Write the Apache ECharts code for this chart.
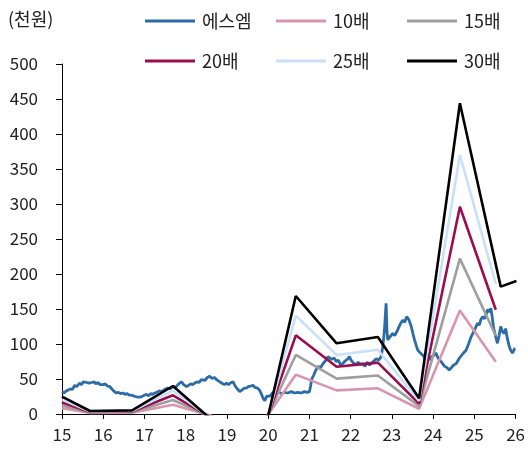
<!DOCTYPE html>
<html>
<head>
<meta charset="utf-8">
<script src="https://cdn.jsdelivr.net/npm/echarts@6/dist/echarts.min.js"></script>
<style>
  html, body { margin: 0; padding: 0; background: #fff; }
  #main { width: 528px; height: 450px; }
</style>
</head>
<body>
<div id="main"></div>
<script>
// 에스엠 주가 (연도 소수점, 천원)
var smYears = [15.00,15.05,15.10,15.15,15.20,15.25,15.31,15.36,15.42,15.47,15.52,15.56,15.60,15.65,15.68,15.72,15.78,15.82,15.87,15.92,15.96,
  16.00,16.05,16.10,16.16,16.20,16.25,16.32,16.37,16.42,16.48,16.53,16.58,16.63,16.68,16.73,16.78,16.84,16.89,16.94,
  17.00,17.05,17.10,17.15,17.20,17.25,17.30,17.36,17.42,17.49,17.55,17.62,17.69,17.75,17.80,17.85,17.90,17.95,
  18.02,18.07,18.12,18.17,18.22,18.27,18.32,18.38,18.42,18.47,18.52,18.58,18.63,18.70,18.75,18.80,18.83,18.88,18.94,18.99,
  19.04,19.10,19.15,19.20,19.25,19.31,19.36,19.42,19.47,19.52,19.58,19.63,19.68,19.74,19.79,19.84,19.88,19.92,19.96,
  20.00,20.05,20.10,20.16,20.21,20.27,20.32,20.40,20.48,20.56,20.64,20.72,20.80,20.88,20.95,
  21.00,21.03,21.05,21.10,21.15,21.21,21.27,21.33,21.39,21.45,21.49,21.54,21.60,21.65,21.70,21.76,21.81,21.87,21.92,21.97,
  22.02,22.07,22.13,22.18,22.24,22.30,22.35,22.40,22.46,22.51,22.57,22.62,22.68,22.74,22.78,22.82,22.86,22.88,22.90,22.95,
  23.02,23.07,23.14,23.20,23.26,23.31,23.36,23.41,23.47,23.51,23.55,23.59,23.63,23.68,23.75,23.80,23.85,23.91,23.96,
  24.02,24.07,24.12,24.18,24.23,24.28,24.34,24.39,24.44,24.50,24.56,24.60,24.64,24.68,24.72,24.76,24.80,24.86,24.92,24.97,
  25.02,25.08,25.12,25.16,25.20,25.25,25.30,25.32,25.36,25.40,25.43,25.46,25.48,25.52,25.56,25.60,25.64,25.68,25.72,25.76,
  25.80,25.85,25.89,25.93,25.97,25.99];
var smPrice = [32,30,33,34,36,35,41,39,44,42,46,48,45,44,43,45,46,43,45,42,44,
  42,43,40,39,37,33,30,31,29,30,28,29,27,27,26,25,24,24,25,
  27,28,26,29,28,30,31,33,32,35,37,36,39,38,41,44,46,42,
  39,41,43,42,44,46,45,49,50,48,52,54,51,52,49,47,45,44,42,44,
  42,45,46,40,36,32,34,37,37,39,40,41,38,37,34,28,22,19,25,
  27,26,30,32,30,31,29,31,30,32,30,31,30,32,31,
  32,40,49,55,62,68,66,72,76,82,84,78,80,75,77,70,72,76,78,82,
  76,73,70,74,71,72,68,74,70,73,76,79,77,82,96,120,158,120,106,110,
  115,112,120,128,134,131,139,135,125,115,106,98,91,88,84,80,86,77,82,
  84,87,80,76,72,68,66,63,66,70,72,76,80,82,86,84,91,100,110,116,
  122,130,127,135,139,136,145,149,146,151,140,126,120,110,101,112,125,118,115,122,
  108,96,90,87,93,94];

// PER 밴드 (연도, 천원)
var bandYears = [15.00, 15.68, 16.70, 17.69, 18.70, 19.70, 20.67, 21.66, 22.66, 23.66, 24.65, 25.52];
var band10 = [8.2, 1.4, 1.7, 13.3, -4, -26.3, 56.2, 33.7, 36.7, 7.5, 148, 74.5];
var band15 = [12.3, 2.1, 2.6, 20, -6, -39.5, 84.3, 50.5, 55, 11.2, 222, 111.8];
var band20 = [16.5, 2.9, 3.5, 26.7, -8, -53, 112.4, 67.4, 73.4, 14.9, 296, 149];
var band25 = [20.6, 3.6, 4.3, 33.3, -10, -66, 140.5, 84.2, 91.7, 18.7, 370, 186];
var band30Years = [15.00, 15.68, 16.70, 17.69, 18.70, 19.70, 20.67, 21.66, 22.66, 23.66, 24.65, 25.64, 26.02];
var band30 = [24.7, 4.3, 5.2, 40, -12, -79, 168.6, 101, 110, 22.4, 444, 182, 190];

var names = ['에스엠', '10배', '15배', '20배', '25배', '30배'];
var colors = ['#2b6ca8', '#d995aa', '#9e9e9e', '#9c0d4e', '#c8e0fb', '#000000'];

function pairs(xs, ys) {
  return xs.map(function (x, i) { return [x, ys[i]]; });
}

var seriesData = [
  pairs(smYears, smPrice),
  pairs(bandYears, band10),
  pairs(bandYears, band15),
  pairs(bandYears, band20),
  pairs(bandYears, band25),
  pairs(band30Years, band30)
];

var font = 'Noto Sans CJK KR';
var legendLeft = [145, 276, 407];
var legendTop = [12, 52];

var legends = names.map(function (n, i) {
  return {
    data: [n],
    left: legendLeft[i % 3],
    top: legendTop[Math.floor(i / 3)],
    padding: 0,
    icon: 'rect',
    itemWidth: 50,
    itemHeight: 3,
    itemGap: 0,
    textStyle: { fontFamily: font, fontSize: 18, color: '#222', padding: [0, 0, 0, 2] }
  };
});

var chart = echarts.init(document.getElementById('main'));
chart.setOption({
  animation: false,
  color: colors,
  title: {
    text: '(천원)',
    left: 8, top: 10, padding: 0,
    textStyle: { fontFamily: font, fontSize: 18, fontWeight: 'normal', color: '#222' }
  },
  legend: legends,
  grid: { left: 62, right: 12, top: 64, bottom: 36 },
  xAxis: {
    type: 'value',
    min: 15, max: 26, interval: 1,
    axisLine: { lineStyle: { color: '#000', width: 1 } },
    axisTick: { show: true, length: 5, lineStyle: { color: '#000' } },
    axisLabel: { fontFamily: font, fontSize: 17, color: '#222', margin: 12 },
    splitLine: { show: false }
  },
  yAxis: {
    type: 'value',
    min: 0, max: 500, interval: 50,
    axisLine: { show: true, lineStyle: { color: '#000', width: 1 } },
    axisTick: { show: true, length: 6, lineStyle: { color: '#000' } },
    axisLabel: { fontFamily: font, fontSize: 17, color: '#222', margin: 24 },
    splitLine: { show: false }
  },
  series: names.map(function (n, i) {
    return {
      name: n,
      type: 'line',
      data: seriesData[i],
      symbol: 'none',
      clip: true,
      lineStyle: { color: colors[i], width: i === 0 ? 2.8 : 2.6 },
      itemStyle: { color: colors[i] }
    };
  })
});
</script>
</body>
</html>
